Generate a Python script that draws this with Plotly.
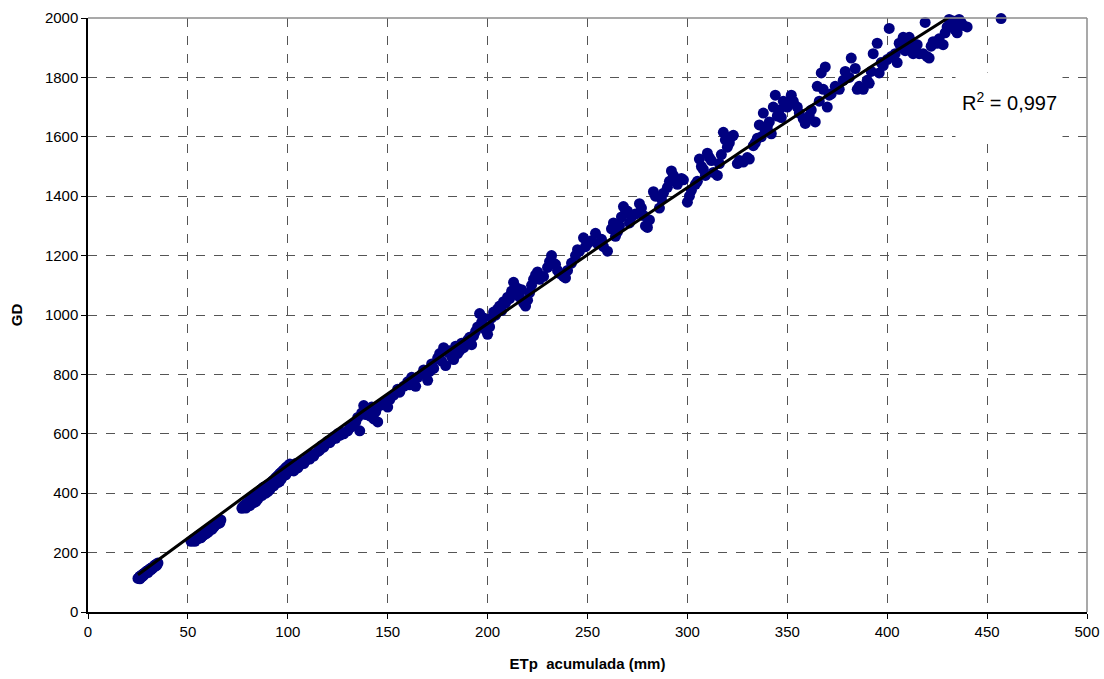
import numpy as np
import plotly.graph_objects as go

# ETp acumulada (mm) and GD
etp_mm = [
    25.5, 26, 26.5, 27, 27.5, 28, 28.5, 29, 29.5, 30, 31, 31.5, 32, 33, 33.5, 34, 35, 26, 27, 30,
    25, 25.8, 26.3, 26.8, 27.3, 27.8, 28.3, 28.8, 29.3, 29.8, 30.5, 31.2, 32.5, 33.2, 34.5, 28, 32, 34,
    52, 53, 54, 55, 55.5, 56, 57, 58, 58.5, 59, 60, 61, 62, 63, 64, 64.5, 65, 66, 66.5, 53.5, 56.5, 60, 62,
    51.5, 52.5, 53, 54.5, 55, 56, 57.5, 58, 59.5, 60.5, 61.5, 62.5, 63.5, 65.5, 66, 57, 59, 63,
    77, 77.5, 78, 78.5, 79, 79.5, 80, 80.5, 81, 81.5, 82, 82.5, 83, 83.5, 84, 84.5, 85, 85.5, 86, 86.5,
    87, 87.5, 88, 88.5, 89, 89.5, 90, 90.5, 91, 91.5, 92, 92.5, 93, 93.5, 94, 94.5, 95, 95.5, 96, 96.5,
    97, 97.5, 98, 98.5, 99, 99.5, 100, 100.5, 101,
    79, 81, 83, 85, 87, 89, 91, 93, 95, 97, 99, 101, 84, 90, 96,
    102, 103, 104, 105, 106, 107, 108, 109, 110, 111, 112, 113, 115, 116, 117, 118, 120, 121, 122, 123, 124, 125, 126, 127, 128,
    130, 131, 132, 134, 135, 136, 137, 138, 139, 140, 141, 142, 143, 144, 145, 146, 147, 148, 150, 151, 153, 155, 156, 158,
    160, 161, 162, 163, 164, 165, 167, 168, 170, 171, 172, 173, 175, 176, 177, 178, 179, 180, 181, 182, 183, 184, 185,
    186, 187, 188, 189, 190, 191, 192, 193, 194, 195, 196, 197, 198, 199, 200, 201, 202, 203, 204, 205, 206, 207, 208, 209,
    210, 211, 212, 213, 214, 215, 216, 217, 218, 219, 220, 221, 222, 223, 224, 225, 226, 228, 230, 231, 232, 233, 234, 235,
    236, 238, 239, 240, 242, 244, 245, 246, 248, 249, 250, 252, 254, 255, 257, 258, 260,
    262, 263, 264, 265, 266, 267, 268, 269, 270, 271, 272, 274, 276, 277, 278, 279, 280, 281, 283, 284, 286, 287, 288,
    290, 291, 292, 293, 295, 297, 298, 300, 301, 302, 304, 305, 306, 307, 308, 309, 310, 311, 312, 313, 315, 316, 317,
    318, 319, 320, 321, 322, 323, 325, 326, 328, 330, 331, 333, 334, 335,
    336, 337, 338, 339, 340, 341, 342, 343, 344, 345, 346, 347, 348, 350, 352, 353, 355, 356, 358, 359, 361, 362, 364,
    365, 366, 367, 368, 369, 370, 371, 372, 374, 376, 378, 379, 381, 382, 384, 385, 386, 388, 390, 391, 392, 393, 395,
    396, 397, 398, 400, 401, 402, 404, 405, 406, 407,
    408, 409, 410, 411, 412, 413, 414, 415, 416, 418, 419, 420, 421, 422, 423, 425, 426, 428, 429, 430, 431, 432, 433,
    434, 435, 436, 437, 438, 440, 457,
]
gd = [
    115, 120, 118, 125, 122, 130, 128, 135, 138, 140, 145, 142, 150, 152, 158, 160, 165, 112, 118, 133,
    113, 117, 121, 122, 126, 127, 131, 132, 136, 137, 141, 146, 148, 154, 158, 124, 146, 155,
    240, 245, 248, 252, 258, 255, 262, 265, 270, 268, 275, 280, 285, 290, 295, 300, 298, 305, 310, 238, 250, 268, 278,
    238, 243, 240, 250, 246, 260, 258, 260, 272, 272, 282, 284, 292, 302, 300, 255, 263, 286,
    349, 355, 352, 360, 362, 366, 365, 372, 375, 378, 382, 386, 388, 392, 395, 400, 402, 405, 408, 412,
    414, 418, 420, 416, 424, 420, 428, 426, 432, 430, 438, 442, 444, 448, 452, 455, 458, 462, 466, 468,
    472, 475, 478, 482, 485, 488, 492, 490, 498,
    350, 358, 368, 380, 392, 400, 412, 425, 436, 450, 462, 475, 372, 405, 440,
    490, 475, 500, 485, 495, 505, 500, 510, 520, 515, 530, 525, 540, 545, 560, 555, 575, 570, 580, 590, 585, 600, 595, 605, 600,
    610, 620, 625, 640, 655, 610, 670, 695, 665, 680, 660, 690, 650, 675, 640, 695, 700, 705, 690, 715, 730, 750, 740, 760,
    775, 765, 790, 780, 760, 790, 800, 815, 780, 810, 835, 820, 855, 870, 845, 890, 830, 875, 880, 860, 850, 895, 870,
    880, 905, 890, 900, 915, 925, 900, 930, 945, 960, 1005, 975, 990, 950, 935, 960, 990, 1010, 1000, 1020, 1030, 1015, 1045, 1040,
    1060, 1055, 1080, 1110, 1070, 1090, 1060, 1085, 1040, 1030, 1050, 1075, 1100, 1120, 1135, 1145, 1120, 1130, 1160, 1180, 1200, 1175, 1170, 1150,
    1140, 1130, 1125, 1150, 1175, 1200, 1220, 1215, 1260, 1230, 1240, 1250, 1275, 1240, 1255, 1230, 1215,
    1290, 1310, 1265, 1280, 1300, 1330, 1365, 1345, 1350, 1310, 1330, 1340, 1375, 1360, 1335, 1300, 1295, 1320, 1415, 1400, 1360, 1390, 1410,
    1430, 1450, 1485, 1470, 1440, 1460, 1455, 1380, 1400, 1420, 1440, 1450, 1525, 1500, 1490, 1470, 1545, 1530, 1520, 1480, 1470, 1510, 1540,
    1615, 1590, 1565, 1580, 1600, 1605, 1510, 1520, 1515, 1530, 1525, 1570, 1580, 1595,
    1640, 1600, 1680, 1620, 1635, 1650, 1610, 1700, 1740, 1670, 1690, 1665, 1720, 1700, 1740, 1720, 1700, 1680, 1660, 1645, 1670, 1690, 1650,
    1770, 1720, 1815, 1760, 1835, 1700, 1740, 1745, 1770, 1760, 1790, 1820, 1800, 1865, 1830, 1760, 1770, 1760, 1790, 1780, 1820, 1880, 1915,
    1815, 1850, 1840, 1860, 1965, 1870, 1880, 1850, 1915, 1900,
    1935, 1890, 1905, 1935, 1920, 1880, 1900, 1910, 1880, 1880, 1985, 1870, 1865, 1905, 1920, 1915, 1930, 1910, 1950, 1970, 1995, 1980, 1990,
    1960, 1950, 1995, 1985, 1975, 1970, 1998,
]

x_ticks = list(range(0, 501, 50))
y_ticks = list(range(0, 2001, 200))
x_title = "<b>ETp\u00a0 acumulada (mm)</b>"
y_title = "<b>GD</b>"
r2_label = "R<sup>2</sup> = 0,997"

# 2nd-order polynomial trend line with intercept fixed at 0 (GD = b*x + c*x^2)
x = np.array(etp_mm, dtype=float)
y = np.array(gd, dtype=float)
A = np.column_stack([x, x ** 2])
(b, c), *_ = np.linalg.lstsq(A, y, rcond=None)
xf = np.linspace(x.min(), x.max(), 200)
yf = b * xf + c * xf ** 2

FONT = "Liberation Sans, Arial, sans-serif"

fig = go.Figure()
fig.add_trace(go.Scatter(
    x=etp_mm, y=gd, mode="markers",
    marker=dict(color="#000080", size=11, line=dict(width=0)),
    cliponaxis=False, showlegend=False,
))
fig.add_trace(go.Scatter(
    x=xf, y=yf, mode="lines",
    line=dict(color="black", width=3),
    showlegend=False,
))

axis_common = dict(
    showgrid=True, gridcolor="#555555", griddash="dash", gridwidth=1,
    showline=True, linecolor="black", linewidth=1.5,
    ticks="outside", ticklen=5, tickcolor="black", tickwidth=1,
    tickfont=dict(family=FONT, size=15, color="black"),
    zeroline=False, automargin=False,
)
fig.update_xaxes(range=[0, 500], tickvals=x_ticks, **axis_common,
                 title=dict(text=x_title, font=dict(family=FONT, size=15, color="black"), standoff=20))
fig.update_yaxes(range=[0, 2000], tickvals=y_ticks, **axis_common,
                 title=dict(text=y_title, font=dict(family=FONT, size=15, color="black"), standoff=19))

# grey border on top and right
fig.add_shape(type="line", xref="paper", yref="paper", x0=0, x1=1, y0=1, y1=1,
              line=dict(color="#8c8c8c", width=1.5))
fig.add_shape(type="line", xref="paper", yref="paper", x0=1, x1=1, y0=0, y1=1,
              line=dict(color="#8c8c8c", width=1.5))

# white label box behind the R^2 text, then the text itself
fig.add_annotation(x=461, y=1700, xref="x", yref="y", text="", showarrow=False,
                   bgcolor="white", width=104, height=66)
fig.add_annotation(x=461, y=1720, xref="x", yref="y", text=r2_label, showarrow=False,
                   font=dict(family=FONT, size=20, color="black"))

fig.update_layout(
    width=1104, height=679,
    margin=dict(l=88, r=17, t=18, b=67),
    plot_bgcolor="white", paper_bgcolor="white",
    font=dict(family=FONT),
)
fig.write_html("out.html", config={"displayModeBar": False},
               post_script="document.body.style.margin='0px';")
